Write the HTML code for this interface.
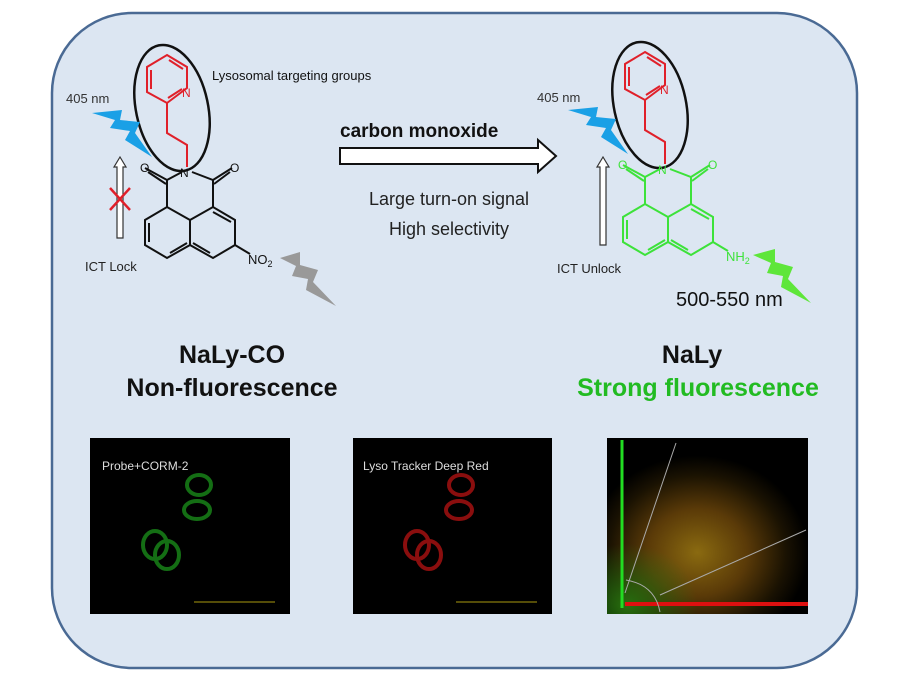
<!DOCTYPE html>
<html><head><meta charset="utf-8"><style>
body{margin:0;width:900px;height:678px;background:#fff;overflow:hidden}
svg{display:block}
text{font-family:"Liberation Sans",sans-serif}
</style></head><body>
<svg width="900" height="678" viewBox="0 0 900 678">
<defs>
<radialGradient id="sc" cx="0.45" cy="0.65" r="0.55">
<stop offset="0" stop-color="#8a6a10"/><stop offset="0.45" stop-color="#5a3a08"/><stop offset="0.8" stop-color="#1a1202"/><stop offset="1" stop-color="#000"/></radialGradient>
<radialGradient id="sc2" cx="0.1" cy="0.95" r="0.35">
<stop offset="0" stop-color="#2a7a10" stop-opacity="0.9"/><stop offset="1" stop-color="#2a7a10" stop-opacity="0"/></radialGradient>
<g id="mol">
<ellipse cx="172" cy="108" rx="36" ry="64" transform="rotate(-12 172 108)" fill="none" stroke="#111" stroke-width="2.5"/>
<g stroke="#e0202a" stroke-width="2" fill="none">
<polygon points="167,55 187,67 187,88 167,103 147,92 147,67"/>
<line x1="151" y1="70" x2="151" y2="89"/><line x1="169" y1="60" x2="183" y2="69"/><line x1="168" y1="98" x2="182" y2="89"/>
<polyline points="167,103 167,133 187,145 187,167"/>
</g>
<text x="182" y="97" font-size="12" fill="#e0202a">N</text>
</g>
<g id="core" fill="none" stroke-width="2">
<polyline points="145,168 167,180 182,172"/><polyline points="192,172 213,180 232,168"/>
<line x1="148" y1="172" x2="166" y2="184"/><line x1="230" y1="172" x2="214" y2="184"/>
<line x1="167" y1="180" x2="167" y2="207"/><line x1="213" y1="180" x2="213" y2="207"/>
<polygon points="190,220 167,207 145,220 145,245 167,258 190,245"/>
<polygon points="190,220 213,207 235,220 235,245 213,258 190,245"/>
<line x1="149" y1="223" x2="149" y2="242"/><line x1="170" y1="253" x2="187" y2="243"/><line x1="213" y1="212" x2="231" y2="222"/><line x1="193" y1="243" x2="210" y2="253"/>
<line x1="235" y1="245" x2="250" y2="254"/>
</g>
</defs>
<rect x="52" y="13" width="805" height="655" rx="80" fill="#dce6f2" stroke="#4a6a94" stroke-width="2.5"/>
<!-- left -->
<use href="#mol"/>
<g stroke="#111"><use href="#core"/></g>
<text x="180" y="177" font-size="12" fill="#111">N</text>
<text x="140" y="172" font-size="12" fill="#111">O</text>
<text x="230" y="172" font-size="12" fill="#111">O</text>
<text x="248" y="264" font-size="13" fill="#111">NO<tspan font-size="9" dy="3">2</tspan></text>
<text x="212" y="80" font-size="13" fill="#111">Lysosomal targeting groups</text>
<text x="66" y="103" font-size="13" fill="#333">405 nm</text>
<polygon points="92,113 122,110 120,120 140,122 135,133 152,157 125,140 130,131 110,128 115,120" fill="#1aa0e6"/>
<polygon points="280,258 300,252 300,265 318,270 313,282 336,306 306,290 308,279 292,276 296,266" fill="#999"/>
<path d="M117,238 V167 L114,167 L120,157 L126,167 L123,167 V238 Z" fill="#fff" stroke="#333" stroke-width="1.2"/>
<path d="M110,188 L130,210 M130,188 L110,210" stroke="#e0202a" stroke-width="2.5"/>
<text x="85" y="271" font-size="13" fill="#222">ICT Lock</text>
<!-- middle -->
<text x="340" y="137" font-size="19" font-weight="bold" fill="#111">carbon monoxide</text>
<path d="M340,148 H538 V140 L556,156 L538,172 V164 H340 Z" fill="#fff" stroke="#111" stroke-width="2"/>
<text x="449" y="205" font-size="18" fill="#222" text-anchor="middle">Large turn-on signal</text>
<text x="449" y="235" font-size="18" fill="#222" text-anchor="middle">High selectivity</text>
<!-- right -->
<g transform="translate(478,-3)">
<use href="#mol"/>
<g stroke="#3de23a"><use href="#core"/></g>
<text x="180" y="177" font-size="12" fill="#3de23a">N</text>
<text x="140" y="172" font-size="12" fill="#3de23a">O</text>
<text x="230" y="172" font-size="12" fill="#3de23a">O</text>
<text x="248" y="264" font-size="13" fill="#3de23a">NH<tspan font-size="9" dy="3">2</tspan></text>
<polygon points="90,113 120,110 118,120 138,122 133,133 150,157 123,140 128,131 108,128 113,120" fill="#1aa0e6"/>
<polygon points="275,258 297,252 297,265 315,270 310,282 333,306 303,290 305,279 289,276 293,266" fill="#5ee63a"/>
</g>
<text x="537" y="102" font-size="13" fill="#333">405 nm</text>
<path d="M600,245 V167 L597,167 L603,157 L609,167 L606,167 V245 Z" fill="#fff" stroke="#333" stroke-width="1.2"/>
<text x="557" y="273" font-size="13" fill="#222">ICT Unlock</text>
<text x="676" y="306" font-size="20" fill="#111">500-550 nm</text>
<!-- titles -->
<text x="232" y="363" font-size="25" font-weight="bold" fill="#111" text-anchor="middle">NaLy-CO</text>
<text x="232" y="396" font-size="25" font-weight="bold" fill="#111" text-anchor="middle">Non-fluorescence</text>
<text x="692" y="363" font-size="25" font-weight="bold" fill="#111" text-anchor="middle">NaLy</text>
<text x="698" y="396" font-size="25" font-weight="bold" fill="#22bb22" text-anchor="middle">Strong fluorescence</text>
<!-- images -->
<rect x="90" y="438" width="200" height="176" fill="#000"/>
<text x="102" y="470" font-size="12" fill="#ddd">Probe+CORM-2</text>
<g fill="none" stroke="#1a8a1a" stroke-width="4" opacity="0.8">
<ellipse cx="199" cy="485" rx="12" ry="10"/><ellipse cx="197" cy="510" rx="13" ry="9"/><ellipse cx="155" cy="545" rx="12" ry="14"/><ellipse cx="167" cy="555" rx="12" ry="14"/></g>
<line x1="194" y1="602" x2="275" y2="602" stroke="#aa9a10"/>
<rect x="353" y="438" width="199" height="176" fill="#000"/>
<text x="363" y="470" font-size="12" fill="#ddd">Lyso Tracker Deep Red</text>
<g fill="none" stroke="#9a1010" stroke-width="4" opacity="0.9">
<ellipse cx="461" cy="485" rx="12" ry="10"/><ellipse cx="459" cy="510" rx="13" ry="9"/><ellipse cx="417" cy="545" rx="12" ry="14"/><ellipse cx="429" cy="555" rx="12" ry="14"/></g>
<line x1="456" y1="602" x2="537" y2="602" stroke="#aa9a10"/>
<rect x="607" y="438" width="201" height="176" fill="#000"/>
<rect x="607" y="438" width="201" height="176" fill="url(#sc)"/>
<rect x="607" y="438" width="201" height="176" fill="url(#sc2)"/>
<line x1="622" y1="440" x2="622" y2="608" stroke="#22dd22" stroke-width="3"/>
<line x1="625" y1="604" x2="808" y2="604" stroke="#dd1010" stroke-width="4"/>
<g stroke="#aaa" stroke-width="1" fill="none"><line x1="625" y1="593" x2="676" y2="443"/><line x1="660" y1="595" x2="806" y2="530"/><path d="M626,580 Q655,585 660,612"/></g>
</svg>
</body></html>
